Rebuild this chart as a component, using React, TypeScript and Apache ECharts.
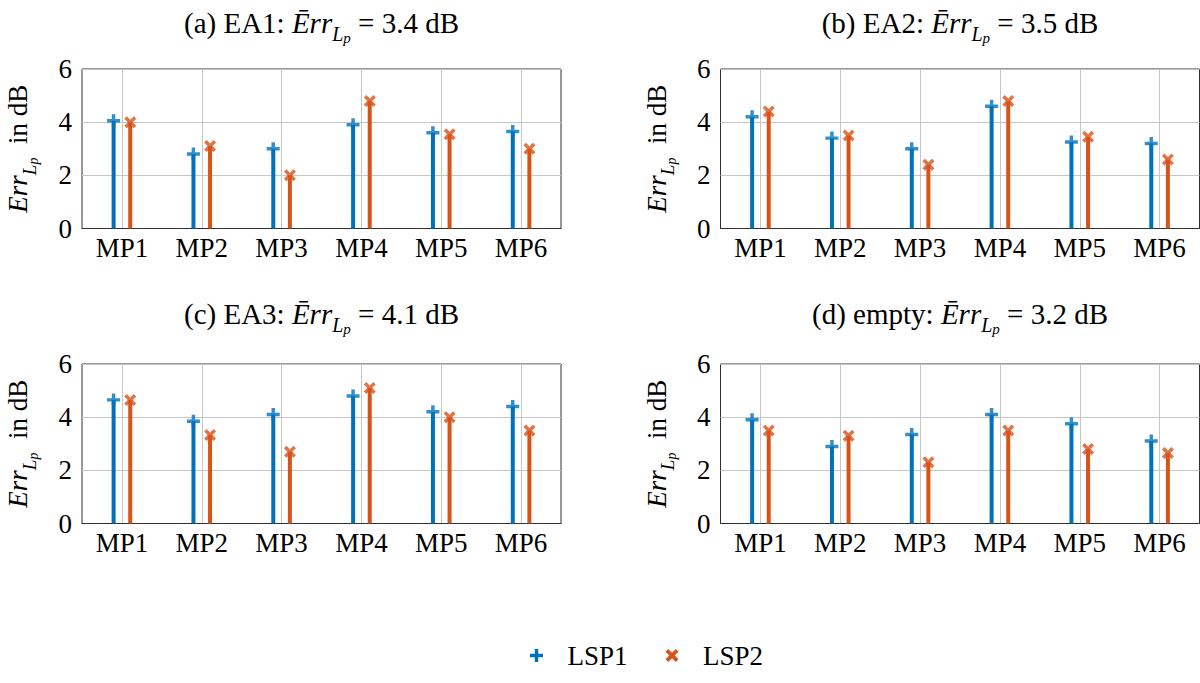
import React, { useEffect, useRef } from "react";
import * as echarts from "echarts";

const categories = ["MP1", "MP2", "MP3", "MP4", "MP5", "MP6"];
const yTicks = [0, 2, 4, 6];
const seriesNames = ["LSP1", "LSP2"];
const panelNames = ["(a) EA1", "(b) EA2", "(c) EA3", "(d) empty"];
const panelMeans = ["3.4", "3.5", "4.1", "3.2"];

const lsp1A = [4.05, 2.8, 3.0, 3.9, 3.6, 3.65];
const lsp2A = [4.0, 3.1, 2.0, 4.8, 3.55, 3.0];
const lsp1B = [4.2, 3.4, 3.0, 4.6, 3.25, 3.2];
const lsp2B = [4.4, 3.5, 2.4, 4.8, 3.45, 2.6];
const lsp1C = [4.65, 3.85, 4.1, 4.8, 4.2, 4.4];
const lsp2C = [4.65, 3.33, 2.7, 5.1, 4.0, 3.5];
const lsp1D = [3.9, 2.9, 3.35, 4.1, 3.75, 3.1];
const lsp2D = [3.5, 3.3, 2.3, 3.5, 2.8, 2.65];

const panelData = [
  [lsp1A, lsp2A],
  [lsp1B, lsp2B],
  [lsp1C, lsp2C],
  [lsp1D, lsp2D],
];

const FONT = "'Liberation Serif', 'Times New Roman', 'DejaVu Serif', serif";
const BLUE = "#0072BD";
const ORANGE = "#D95319";
const PLUS = "path://M4.4,0H7.6V4.4H12V7.6H7.6V12H4.4V7.6H0V4.4H4.4Z";
const CROSS =
  "path://M0,2.5L2.5,0L6,3.5L9.5,0L12,2.5L8.5,6L12,9.5L9.5,12L6,8.5L2.5,12L0,9.5L3.5,6Z";

const grids = [
  { left: 82, top: 69 },
  { left: 720.5, top: 69 },
  { left: 82, top: 364 },
  { left: 720.5, top: 364 },
];
const GW = 479;
const GH = 159.5;

function makeRich(size: number) {
  return {
    n: { fontSize: size, fontFamily: FONT, color: "#000", lineHeight: 36 },
    i: { fontSize: size, fontFamily: FONT, fontStyle: "italic", color: "#000", lineHeight: 36 },
    s: { fontSize: Math.round(size * 0.7), fontFamily: FONT, fontStyle: "italic", color: "#000", verticalAlign: "bottom", height: 14 },
    ss: { fontSize: Math.round(size * 0.52), fontFamily: FONT, fontStyle: "italic", color: "#000", verticalAlign: "bottom", height: 6 },
  };
}
const titleRich = makeRich(29);
const nameRich = makeRich(27);

export default function App() {
  const ref = useRef<HTMLDivElement>(null);
  useEffect(() => {
    if (!ref.current) return;
    const chart = echarts.init(ref.current, null, { renderer: "svg" });
    const series: any[] = [];
    panelData.forEach((pair, gi) => {
      pair.forEach((vals, si) => {
        series.push({
          name: seriesNames[si],
          type: "bar",
          xAxisIndex: gi,
          yAxisIndex: gi,
          data: vals,
          barWidth: 4,
          barGap: "315%",
          itemStyle: { color: si === 0 ? BLUE : ORANGE },
          z: 2,
        });
      });
      pair.forEach((vals, si) => {
        series.push({
          name: seriesNames[si],
          type: "scatter",
          xAxisIndex: gi,
          yAxisIndex: gi,
          data: vals,
          symbol: si === 0 ? PLUS : CROSS,
          symbolSize: si === 0 ? 13 : 12,
          symbolOffset: [si === 0 ? -8.35 : 8.35, 0],
          itemStyle: { color: si === 0 ? BLUE : ORANGE },
          z: 3,
        });
      });
    });

    const graphics: any[] = [];
    grids.forEach((g, gi) => {
      graphics.push({
        type: "text",
        x: g.left + GW / 2,
        y: g.top - (gi < 2 ? 46 : 50),
        style: {
          text: `{n|${panelNames[gi]}: }{i|Ērr}{s|L}{ss|p}{n| = ${panelMeans[gi]} dB}`,
          rich: titleRich,
          align: "center",
          verticalAlign: "middle",
        },
      });
      graphics.push({
        type: "text",
        x: g.left - 64,
        y: g.top + GH / 2,
        rotation: Math.PI / 2,
        style: {
          text: `{i|Err}{s|L}{ss|p}{n|  in dB}`,
          rich: nameRich,
          align: "center",
          verticalAlign: "middle",
        },
      });
    });

    chart.setOption({
      animation: false,
      backgroundColor: "#fff",
      textStyle: { fontFamily: FONT },
      grid: grids.map((g) => ({
        left: g.left,
        top: g.top,
        width: GW,
        height: GH,
        show: true,
        borderColor: "#303030",
        borderWidth: 1,
        backgroundColor: "transparent",
        containLabel: false,
      })),
      xAxis: grids.map((_, gi) => ({
        type: "category",
        gridIndex: gi,
        data: categories,
        boundaryGap: true,
        axisLine: { show: true, lineStyle: { color: "#303030", width: 1 } },
        axisTick: { show: false },
        axisLabel: { fontSize: 27, fontFamily: FONT, color: "#000", margin: 6 },
        splitLine: { show: true, alignWithLabel: true, lineStyle: { color: "#c6c6c6", width: 1 } },
      })),
      yAxis: grids.map((_, gi) => ({
        type: "value",
        gridIndex: gi,
        min: yTicks[0],
        max: yTicks[yTicks.length - 1],
        interval: 2,
        axisLine: { show: false },
        axisTick: { show: false },
        axisLabel: { fontSize: 27, fontFamily: FONT, color: "#000", margin: 10 },
        splitLine: { show: true, lineStyle: { color: "#c6c6c6", width: 1 } },
      })),
      legend: {
        left: 525,
        top: 637,
        itemWidth: 20,
        itemHeight: 13,
        itemGap: 38,
        textStyle: { fontSize: 27, fontFamily: FONT, color: "#000", padding: [0, 0, 0, 16] },
        data: [
          { name: "LSP1", icon: PLUS, itemStyle: { color: BLUE } },
          { name: "LSP2", icon: CROSS, itemStyle: { color: ORANGE } },
        ],
      },
      graphic: graphics,
      series,
    });
    return () => chart.dispose();
  }, []);
  return (
    <div
      ref={ref}
      style={{ position: "fixed", left: 0, top: 0, width: 1200, height: 683 }}
    />
  );
}
